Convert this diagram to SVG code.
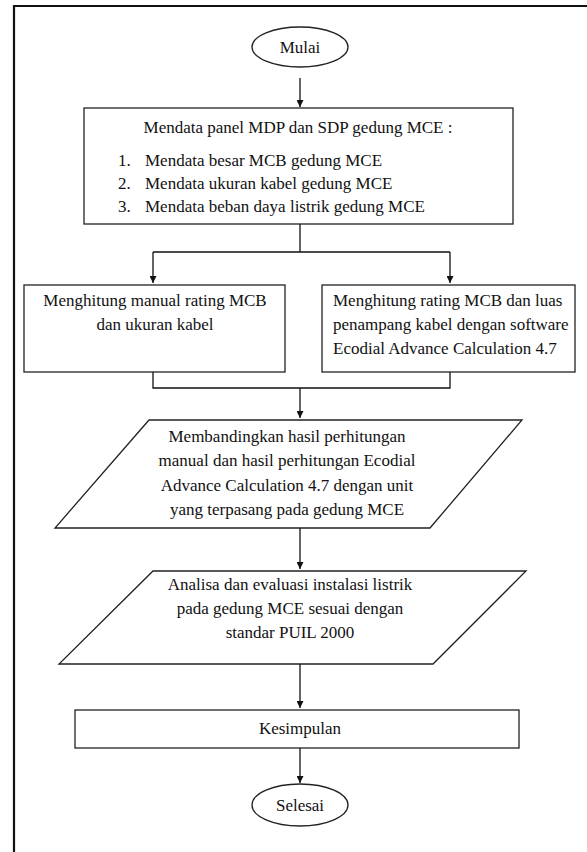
<svg xmlns="http://www.w3.org/2000/svg" width="587" height="852" viewBox="0 0 587 852">
<style>
.shape{fill:#fff;stroke:#222;stroke-width:1.3}
.line{fill:none;stroke:#111;stroke-width:1.3}
text{font-family:'Liberation Serif','DejaVu Serif',serif;font-size:17px;fill:#111}
.c{text-anchor:middle}
</style>
<defs>
<marker id="arr" viewBox="0 0 10 10" refX="10" refY="5" markerWidth="7" markerHeight="7" markerUnits="userSpaceOnUse" orient="auto">
<path d="M0,0 L10,5 L0,10 z" fill="#111"/>
</marker>
</defs>
<rect x="0" y="0" width="587" height="852" fill="#fff"/>
<path d="M14,852 V6 H587" fill="none" stroke="#111" stroke-width="2.2"/>
<g id="mulai" font-family="Liberation Serif, serif">
<ellipse class="shape" cx="300" cy="47" rx="48" ry="20"/>
<text class="c" x="300" y="53">Mulai</text>
</g>
<g id="mendata" font-family="Liberation Serif, serif">
<rect class="shape" x="84" y="108" width="429" height="116"/>
<text class="c" x="298" y="133">Mendata panel MDP dan SDP gedung MCE :</text>
<text x="118" y="166">1.</text><text x="145" y="166">Mendata besar MCB gedung MCE</text>
<text x="118" y="189">2.</text><text x="145" y="189">Mendata ukuran kabel gedung MCE</text>
<text x="118" y="212">3.</text><text x="145" y="212">Mendata beban daya listrik gedung MCE</text>
</g>
<g id="manual">
<rect class="shape" x="24" y="285" width="261" height="87"/>
<text class="c" x="155" y="306">Menghitung manual rating MCB</text>
<text class="c" x="155" y="330">dan ukuran kabel</text>
</g>
<g id="software">
<rect class="shape" x="322" y="285" width="253" height="87"/>
<text x="333" y="306">Menghitung rating MCB dan luas</text>
<text x="333" y="330">penampang kabel dengan software</text>
<text x="333" y="354">Ecodial Advance Calculation 4.7</text>
</g>
<g id="banding">
<polygon class="shape" points="149,420 522,420 430,528 55,528"/>
<text class="c" x="287" y="442">Membandingkan hasil perhitungan</text>
<text class="c" x="287" y="466">manual dan hasil perhitungan Ecodial</text>
<text class="c" x="287" y="491">Advance Calculation 4.7 dengan unit</text>
<text class="c" x="287" y="515">yang terpasang pada gedung MCE</text>
</g>
<g id="analisa">
<polygon class="shape" points="153,571 526,571 433,664 59,664"/>
<text class="c" x="290" y="590">Analisa dan evaluasi instalasi listrik</text>
<text class="c" x="290" y="614">pada gedung MCE sesuai dengan</text>
<text class="c" x="290" y="638">standar PUIL 2000</text>
</g>
<g id="kesimpulan">
<rect class="shape" x="75" y="710" width="444" height="38"/>
<text class="c" x="300" y="734">Kesimpulan</text>
</g>
<g id="selesai">
<ellipse class="shape" cx="300" cy="805" rx="48" ry="21"/>
<text class="c" x="300" y="811">Selesai</text>
</g>
<g id="connectors">
<line class="line" x1="300" y1="78" x2="300" y2="107" marker-end="url(#arr)"/>
<path class="line" d="M300,224 V252 M153,252 H450"/>
<line class="line" x1="153" y1="252" x2="153" y2="283" marker-end="url(#arr)"/>
<line class="line" x1="450" y1="252" x2="450" y2="283" marker-end="url(#arr)"/>
<path class="line" d="M153,372 V388 H450 V372"/>
<line class="line" x1="300" y1="388" x2="300" y2="418" marker-end="url(#arr)"/>
<line class="line" x1="300" y1="528" x2="300" y2="569" marker-end="url(#arr)"/>
<line class="line" x1="300" y1="664" x2="300" y2="708" marker-end="url(#arr)"/>
<line class="line" x1="300" y1="748" x2="300" y2="783" marker-end="url(#arr)"/>
</g>
</svg>
